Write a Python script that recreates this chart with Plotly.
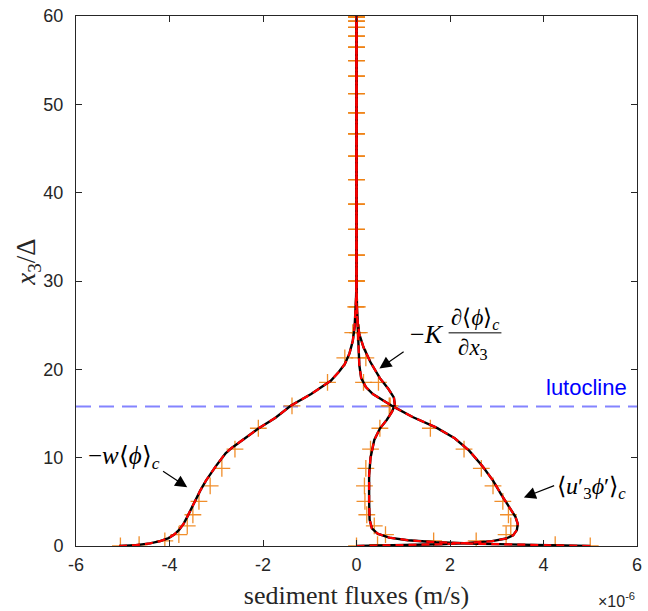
import plotly.graph_objects as go

# ---------------- data (fluxes in units of 1e-6 m/s, height in x3/Delta) -------------
# coarse-grid samples (markers)
y_marker = [0.0, 0.14, 0.58, 1.29, 2.28, 3.54, 5.06, 6.81, 8.79, 10.97, 13.33, 15.86,
            18.52, 21.29, 24.15, 27.06, 30.0, 32.94, 35.85, 38.71, 41.48, 44.14, 46.67,
            49.03, 51.21, 53.19, 54.94, 56.46, 57.72, 58.71, 59.42, 59.86, 60.0]
settling_marker = [-5.05, -4.65, -4.1, -3.8, -3.62, -3.5, -3.37, -3.13, -2.88, -2.6, -2.1,
                   -1.38, -0.62, -0.25, -0.08, -0.02, 0.0, 0.0, 0.0, 0.0, 0.0, 0.0, 0.0,
                   0.0, 0.0, 0.0, 0.0, 0.0, 0.0, 0.0, 0.0, 0.0, 0.0]
turb_marker = [0.0, 0.45, 2.56, 3.2, 3.3, 3.25, 3.13, 2.92, 2.67, 2.3, 1.58, 0.7, 0.15,
               0.05, 0.02, 0.0, 0.0, 0.0, 0.0, 0.0, 0.0, 0.0, 0.0, 0.0, 0.0, 0.0, 0.0,
               0.0, 0.0, 0.0, 0.0, 0.0, 0.0]
model_marker = [5.0, 4.25, 1.65, 0.62, 0.38, 0.22, 0.18, 0.17, 0.2, 0.3, 0.5, 0.72, 0.47,
                0.2, 0.06, 0.02, 0.0, 0.0, 0.0, 0.0, 0.0, 0.0, 0.0, 0.0, 0.0, 0.0, 0.0,
                0.0, 0.0, 0.0, 0.0, 0.0, 0.0]

# fine-grid profiles (lines)
y_settling = [0.0, 0.1, 0.3, 0.55, 0.9, 1.3, 1.8, 2.5, 3.3, 4.2, 5.2, 6.3, 7.4, 8.3, 9.1,
              9.8, 10.5, 11.1, 11.7, 12.5, 13.3, 14.5, 15.9, 17.2, 18.7, 19.7, 20.6,
              21.8, 23.2, 24.8, 26.3, 28.0, 30.0, 40.0, 50.0, 60.0]
x_settling = [-5.08, -4.72, -4.42, -4.2, -4.02, -3.9, -3.8, -3.7, -3.62, -3.54, -3.44,
              -3.34, -3.22, -3.11, -3.0, -2.9, -2.8, -2.67, -2.52, -2.32, -2.1, -1.74,
              -1.4, -0.97, -0.55, -0.38, -0.25, -0.15, -0.08, -0.04, -0.02, -0.01, 0.0,
              0.0, 0.0, 0.0]

y_turb = [0.0, 0.08, 0.2, 0.35, 0.55, 0.85, 1.2, 1.8, 2.5, 3.3, 4.4, 5.8, 7.4, 9.0, 10.8,
          12.2, 13.4, 14.6, 15.8, 16.5, 17.2, 18.0, 19.0, 20.5, 22.5, 25.0, 27.0, 30.0,
          40.0, 50.0, 60.0]
x_turb = [0.0, 1.0, 1.8, 2.4, 2.9, 3.2, 3.35, 3.43, 3.45, 3.4, 3.26, 3.1, 2.92, 2.7, 2.41,
          2.1, 1.71, 1.2, 0.78, 0.55, 0.35, 0.2, 0.1, 0.06, 0.04, 0.02, 0.01, 0.0, 0.0,
          0.0, 0.0]

y_model = [0.0, 0.05, 0.12, 0.25, 0.42, 0.65, 0.95, 1.4, 2.0, 3.0, 5.0, 8.0, 10.0, 12.0,
           13.3, 14.3, 15.2, 16.0, 16.8, 17.8, 19.0, 20.8, 22.5, 24.0, 25.5, 27.0, 30.0,
           40.0, 50.0, 60.0]
x_model = [5.0, 4.3, 3.4, 2.6, 1.7, 1.1, 0.7, 0.45, 0.33, 0.28, 0.27, 0.27, 0.3, 0.38, 0.5,
           0.65, 0.76, 0.82, 0.8, 0.68, 0.5, 0.3, 0.15, 0.06, 0.02, 0.0, 0.0, 0.0, 0.0, 0.0]

lutocline_y = 15.8
x_tick_vals = [-6, -4, -2, 0, 2, 4, 6]
x_tick_text = ["-6", "-4", "-2", "0", "2", "4", "6"]
y_tick_vals = [0, 10, 20, 30, 40, 50, 60]
y_tick_text = ["0", "10", "20", "30", "40", "50", "60"]

# ---------------- styles -------------
ORANGE = "rgba(238,130,20,0.9)"
AXIS = "#262626"
SANS = "Liberation Sans, Arial, sans-serif"
SERIF = "Liberation Serif, Times New Roman, serif"
ARROW = dict(showarrow=True, arrowhead=2, arrowsize=2.0, arrowwidth=1.2,
             arrowcolor="black", axref="x", ayref="y", text="")

fig = go.Figure()

# markers (drawn first, under the lines)
for xm in (settling_marker, turb_marker, model_marker):
    fig.add_trace(go.Scatter(
        x=xm, y=y_marker, mode="markers",
        marker=dict(symbol="cross-thin", size=12, line=dict(width=1.3, color=ORANGE)),
        hoverinfo="skip"))

profiles = [(x_settling, y_settling), (x_turb, y_turb), (x_model, y_model)]
for xs, ys in profiles:
    fig.add_trace(go.Scatter(x=xs, y=ys, mode="lines",
                             line=dict(color="black", width=2.4), hoverinfo="skip"))
for xs, ys in profiles:
    fig.add_trace(go.Scatter(x=xs, y=ys, mode="lines",
                             line=dict(color="red", width=2.2, dash="8px,5px"),
                             hoverinfo="skip"))

# lutocline
fig.add_shape(type="line", xref="x", yref="y", x0=-6, x1=6, y0=lutocline_y, y1=lutocline_y,
              line=dict(color="rgba(110,110,255,0.85)", width=2, dash="15px,8px"), layer="below")

annotations = [
    # lutocline label
    dict(x=4.92, y=17.9, text="lutocline", showarrow=False,
         font=dict(family=SANS, size=22, color="blue")),
    # settling flux label + arrow
    dict(x=-4.98, y=10.0, text="−<i>w</i>⟨<i>ϕ</i>⟩<sub><i>c</i></sub>", showarrow=False,
         font=dict(family=SERIF, size=25, color="black")),
    dict(x=-3.62, y=6.65, ax=-4.17, ay=8.57, **ARROW),
    # turbulent flux label + arrow
    dict(x=5.02, y=6.6, text="⟨<i>u</i>′<sub>3</sub><i>ϕ</i>′⟩<sub><i>c</i></sub>",
         showarrow=False, font=dict(family=SERIF, size=24, color="black")),
    dict(x=3.58, y=5.5, ax=4.26, ay=6.9, **ARROW),
    # model flux label (fraction) + arrow
    dict(x=1.5, y=24.0, text="−<i>K</i>", showarrow=False,
         font=dict(family=SERIF, size=26, color="black")),
    dict(x=2.53, y=25.7, text="∂⟨<i>ϕ</i>⟩<sub><i>c</i></sub>", showarrow=False,
         font=dict(family=SERIF, size=23, color="black")),
    dict(x=2.5, y=22.3, text="∂<i>x</i><sub>3</sub>", showarrow=False,
         font=dict(family=SERIF, size=23, color="black")),
    dict(x=0.49, y=20.1, ax=1.04, ay=22.1, **ARROW),
    # exponent
    dict(x=1.0, y=0, xref="paper", yref="paper", xanchor="right", yanchor="top", yshift=-42,
         text="×10<sup>-6</sup>", showarrow=False,
         font=dict(family=SANS, size=16, color=AXIS)),
    # y-axis title
    dict(x=-0.085, y=0.535, xref="paper", yref="paper", xanchor="center", yanchor="middle",
         textangle=-90, showarrow=False,
         text="<i>x</i><sub>3</sub>/Δ", font=dict(family=SERIF, size=27, color=AXIS)),
]
fig.add_shape(type="line", xref="x", yref="y", x0=1.97, x1=3.10, y0=24.13, y1=24.13,
              line=dict(color="black", width=1))

fig.update_layout(
    width=648, height=611,
    margin=dict(l=76, r=6, t=14, b=65),
    plot_bgcolor="white", paper_bgcolor="white",
    showlegend=False,
    annotations=annotations,
    xaxis=dict(range=[-6, 6], tickvals=x_tick_vals, ticktext=x_tick_text,
               ticks="inside", ticklen=6, tickcolor=AXIS, showline=True, linecolor=AXIS,
               linewidth=1, mirror="ticks", showgrid=False, zeroline=False,
               ticklabelstandoff=2,
               tickfont=dict(family=SANS, size=18, color=AXIS),
               title=dict(text="sediment fluxes (m/s)", standoff=12,
                          font=dict(family=SERIF, size=26, color=AXIS))),
    yaxis=dict(range=[0, 60], tickvals=y_tick_vals, ticktext=y_tick_text,
               ticks="inside", ticklen=6, tickcolor=AXIS, showline=True, linecolor=AXIS,
               linewidth=1, mirror="ticks", showgrid=False, zeroline=False,
               ticklabelstandoff=8,
               tickfont=dict(family=SANS, size=18, color=AXIS)),
)

fig.write_html("out.html")
